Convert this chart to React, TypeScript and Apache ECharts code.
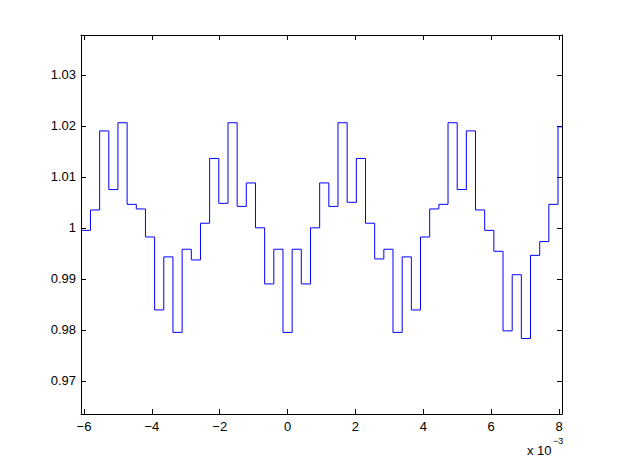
import React, { useEffect, useRef } from "react";
import * as echarts from "echarts";

// x in units of 1e-3
const xTicks = [-6, -4, -2, 0, 2, 4, 6, 8];
const yTicks = [0.97, 0.98, 0.99, 1.0, 1.01, 1.02, 1.03];
const xMin = -6.088;
const xMax = 8.088;
const yMin = 0.9635;
const yMax = 1.0378;

// start of each held sample (x 1e-3)
const stepStarts = [
  -6.088, -5.809, -5.539, -5.269, -4.999, -4.729, -4.458, -4.188, -3.918, -3.648,
  -3.378, -3.107, -2.837, -2.567, -2.297, -2.027, -1.756, -1.486, -1.216, -0.946,
  -0.676, -0.405, -0.135, 0.135, 0.405, 0.676, 0.946, 1.216, 1.486, 1.756,
  2.027, 2.297, 2.567, 2.837, 3.107, 3.378, 3.648, 3.918, 4.188, 4.458,
  4.729, 4.999, 5.269, 5.539, 5.809, 6.08, 6.35, 6.62, 6.89, 7.16,
  7.431, 7.701, 7.971,
];

const stepValues = [
  0.9995, 1.0035, 1.019, 1.0075, 1.0206, 1.0046, 1.0037, 0.9982, 0.9839, 0.9943,
  0.9795, 0.9958, 0.9937, 1.0009, 1.0136, 1.0048, 1.0206, 1.0042, 1.0088, 1.0,
  0.989, 0.9958, 0.9795, 0.9958, 0.989, 1.0, 1.0088, 1.0042, 1.0206, 1.005,
  1.0136, 1.0009, 0.9939, 0.9958, 0.9795, 0.9943, 0.9839, 0.9982, 1.0037, 1.0046,
  1.0206, 1.0075, 1.019, 1.0035, 0.9995, 0.9954, 0.9798, 0.9908, 0.9783, 0.9946,
  0.9973, 1.0046, 1.0198,
];

const FONT = "'Liberation Sans', Arial, Helvetica, sans-serif";

export default function App() {
  const ref = useRef<HTMLDivElement>(null);

  useEffect(() => {
    if (!ref.current) return;
    const chart = echarts.init(ref.current, undefined, { renderer: "svg" });

    const data: [number, number][] = stepStarts.map((x, i) => [x, stepValues[i]]);
    data.push([xMax, stepValues[stepValues.length - 1]]);

    const fmtX = (v: number) => (v < 0 ? "\u2212" + Math.abs(v) : String(v));
    const fmtY = (v: number) => (Math.abs(v - 1) < 1e-9 ? "1" : v.toFixed(2));

    const axisLine = { show: true, onZero: false, lineStyle: { color: "#000", width: 1 } };
    const tick = { show: true, inside: true, length: 5, lineStyle: { color: "#000", width: 1 } };

    chart.setOption({
      animation: false,
      backgroundColor: "#fff",
      grid: { left: 81, right: 60, top: 35, bottom: 53, containLabel: false },
      xAxis: [
        {
          type: "value",
          position: "bottom",
          min: xMin,
          max: xMax,
          axisLine,
          axisTick: { ...tick, customValues: xTicks },
          splitLine: { show: false },
          axisLabel: {
            customValues: xTicks,
            formatter: fmtX,
            color: "#000",
            fontSize: 13,
            fontFamily: FONT,
            margin: 6,
          },
        },
        {
          type: "value",
          position: "top",
          min: xMin,
          max: xMax,
          axisLine,
          axisTick: { ...tick, customValues: xTicks },
          splitLine: { show: false },
          axisLabel: { show: false },
        },
      ],
      yAxis: [
        {
          type: "value",
          position: "left",
          min: yMin,
          max: yMax,
          axisLine,
          axisTick: { ...tick, customValues: yTicks },
          splitLine: { show: false },
          axisLabel: {
            customValues: yTicks,
            formatter: fmtY,
            color: "#000",
            fontSize: 13,
            fontFamily: FONT,
            margin: 5,
          },
        },
        {
          type: "value",
          position: "right",
          min: yMin,
          max: yMax,
          axisLine,
          axisTick: { ...tick, customValues: yTicks },
          splitLine: { show: false },
          axisLabel: { show: false },
        },
      ],
      series: [
        {
          type: "line",
          step: "end",
          data,
          symbol: "none",
          clip: true,
          lineStyle: { color: "#0000ff", width: 1 },
        },
      ],
      graphic: [
        {
          type: "text",
          x: 527,
          y: 450,
          style: {
            text: "x 10",
            fill: "#000",
            fontSize: 13,
            fontFamily: FONT,
            verticalAlign: "middle",
          },
        },
        {
          type: "text",
          x: 553,
          y: 441,
          style: {
            text: "\u22123",
            fill: "#000",
            fontSize: 9,
            fontFamily: FONT,
            verticalAlign: "middle",
          },
        },
      ],
    });

    return () => chart.dispose();
  }, []);

  return (
    <div
      ref={ref}
      style={{ position: "fixed", left: 0, top: 0, width: 622, height: 467, background: "#fff" }}
    />
  );
}
